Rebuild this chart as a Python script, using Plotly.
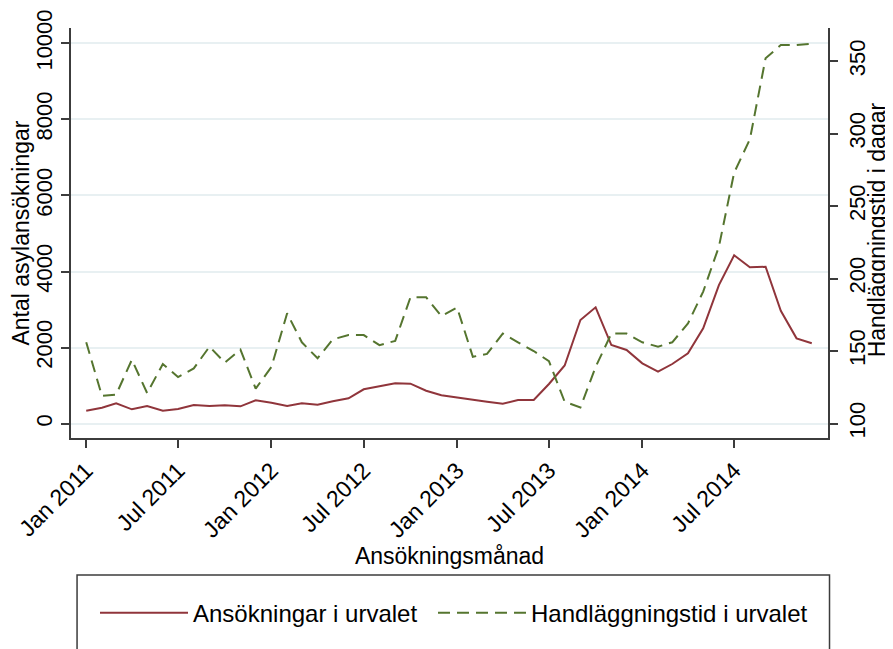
import pandas as pd
import plotly.graph_objects as go

# Months Jan 2011 .. Dec 2014
months = list(pd.date_range("2011-01-01", periods=48, freq="MS"))

ansokningar = [
    342, 420, 536, 378, 465, 342, 386, 491, 465, 483, 457, 615,
    552, 465, 536, 500, 590, 667, 904, 991, 1061, 1052, 867, 746,
    683, 623, 578, 526, 623, 623, 1043, 1530, 2725, 3059, 2068, 1937,
    1586, 1367, 1569, 1850, 2507, 3645, 4426, 4110, 4126, 2970, 2244, 2113,
]

handlaggningstid = [
    156, 119, 120, 144, 121, 141, 132, 138, 153, 142, 151, 124,
    139, 176, 156, 145, 158, 161, 161, 154, 157, 187, 187, 174,
    180, 146, 148, 162, 156, 150, 143, 115, 111, 139, 162, 162,
    156, 153, 156, 169, 191, 222, 273, 296, 352, 361, 361, 362,
]

xtick_vals = ["2011-01-01", "2011-07-01", "2012-01-01", "2012-07-01",
              "2013-01-01", "2013-07-01", "2014-01-01", "2014-07-01"]
xtick_text = ["Jan 2011", "Jul 2011", "Jan 2012", "Jul 2012",
              "Jan 2013", "Jul 2013", "Jan 2014", "Jul 2014"]
y1_ticks = [0, 2000, 4000, 6000, 8000, 10000]
y1_text = ["0", "2000", "4000", "6000", "8000", "10000"]
y2_ticks = [100, 150, 200, 250, 300, 350]

RED = "rgb(144,53,59)"
GREEN = "rgb(85,117,47)"
AXIS = "#3c3c3c"
FONT = "Liberation Sans, Arial, sans-serif"

fig = go.Figure()
fig.add_trace(go.Scatter(
    x=months, y=ansokningar, mode="lines", name="Ansökningar i urvalet",
    line=dict(color=RED, width=2), yaxis="y", legend="legend", showlegend=True))
fig.add_trace(go.Scatter(
    x=months, y=handlaggningstid, mode="lines", name="Handläggningstid i urvalet",
    line=dict(color=GREEN, width=2, dash="12px,7px"), yaxis="y2", legend="legend2",
    showlegend=True))

legend_common = dict(
    orientation="h", xanchor="left", y=-0.427, yanchor="middle",
    font=dict(size=24), itemwidth=88, borderwidth=0, bgcolor="rgba(0,0,0,0)",
)

fig.update_layout(
    width=885, height=641,
    showlegend=True,
    margin=dict(l=63, r=65, t=20, b=211, autoexpand=False),
    paper_bgcolor="white", plot_bgcolor="white",
    font=dict(family=FONT, size=22, color="#000"),
    xaxis=dict(
        range=["2010-12-02", "2015-01-02"], automargin=False,
        tickvals=xtick_vals, ticktext=xtick_text, tickangle=-45,
        ticks="outside", ticklen=8, tickwidth=1.5, tickcolor=AXIS,
        showline=True, linecolor=AXIS, linewidth=2, showgrid=False,
        zeroline=False, tickfont=dict(size=23),
        title=dict(text="Ansökningsmånad", font=dict(size=23), standoff=0),
    ),
    yaxis=dict(
        range=[-376, 10402], tickvals=y1_ticks, ticktext=y1_text, tickangle=-90,
        automargin=False, ticklabelstandoff=0,
        ticks="outside", ticklen=8, tickwidth=1.5, tickcolor=AXIS,
        showline=True, linecolor=AXIS, linewidth=2,
        showgrid=True, gridcolor="#e8f0f2", gridwidth=2,
        zeroline=False, tickfont=dict(size=22),
        title=dict(text="Antal asylansökningar", font=dict(size=23), standoff=14),
    ),
    yaxis2=dict(
        range=[90, 372.8], tickvals=y2_ticks, tickangle=-90,
        overlaying="y", side="right", automargin=False, ticklabelstandoff=1,
        ticks="outside", ticklen=8, tickwidth=1.5, tickcolor=AXIS,
        showline=True, linecolor=AXIS, linewidth=2,
        showgrid=False, zeroline=False, tickfont=dict(size=22),
    ),
    annotations=[dict(
        text="Handläggningstid i dagar", xref="paper", yref="paper",
        x=1.065, y=0.507, xanchor="center", yanchor="middle",
        textangle=-90, showarrow=False, font=dict(size=23),
    )],
    legend=dict(x=0.0317, **legend_common),
    legend2=dict(x=0.4782, **legend_common),
    shapes=[dict(
        type="rect", xref="paper", yref="paper",
        x0=0.008, x1=1.002, y0=-0.56, y1=-0.334,
        line=dict(color=AXIS, width=1.5), fillcolor="rgba(0,0,0,0)", layer="below",
    )],
)

fig.write_html("out.html")
